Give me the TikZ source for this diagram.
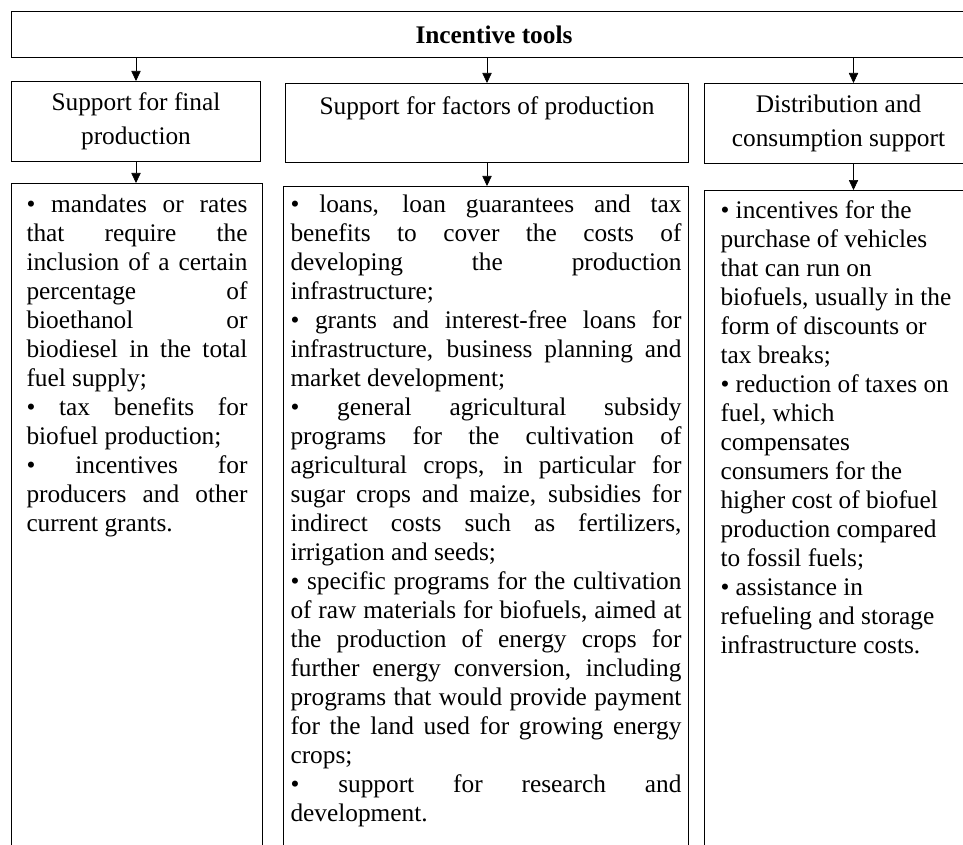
\documentclass[tikz,border=0pt]{standalone}
\usepackage{fontspec}
\setmainfont{Liberation Serif}
\usepackage{tikz}
\usetikzlibrary{calc}
\usetikzlibrary{arrows.meta}
\tolerance=10000
\hbadness=10000

\begin{document}
\begin{tikzpicture}[x=0.75pt, y=-0.75pt,
>={Triangle[length=7.5pt,width=7pt]},
block/.style = {rectangle, draw, line width=0.75pt, anchor=north west, inner sep=0pt},
head/.style = {block, align=center, font=\fontsize{19pt}{25.5pt}\selectfont},
list/.style = {block, font=\fontsize{19pt}{21.75pt}\selectfont}
]
\useasboundingbox (0,0) rectangle (963,845);
\clip (0,0) rectangle (963,845);

\node (tools)[head, minimum width=723.75pt, minimum height=34.5pt] at (11,11) {\textbf{Incentive tools}};

\node (final)[head, minimum width=186.75pt, minimum height=60pt] at (11,81) {Support for final\\production};
\node (factors)[head, minimum width=302.25pt, minimum height=59.25pt] at (285,83) {Support for factors of production\\~};
\node (distrib)[head, minimum width=201pt, minimum height=60pt] at (704,83) {Distribution and\\consumption support};

%,lists below
\node (finallist)[list, inner xsep=11.25pt, inner ysep=8.5pt] at (11,183) {\parbox[c][500pt][t]{165.75pt}{%
\textbullet{} mandates or rates\linebreak that require the\linebreak inclusion of a certain\linebreak percentage of\linebreak bioethanol or\linebreak biodiesel in the total\linebreak fuel supply;\par
\textbullet{} tax benefits for\linebreak biofuel production;\par
\textbullet{} incentives for\linebreak producers and other\linebreak current grants.}};
\node (factorslist)[list, inner xsep=5.25pt, inner ysep=6.5pt] at (283,186) {\parbox[c][500pt][t]{293.25pt}{%
\textbullet{} loans, loan guarantees and tax\linebreak benefits to cover the costs of\linebreak developing the production\linebreak infrastructure;\par
\textbullet{} grants and interest-free loans for\linebreak infrastructure, business planning and\linebreak market development;\par
\textbullet{} general agricultural subsidy\linebreak programs for the cultivation of\linebreak agricultural crops, in particular for\linebreak sugar crops and maize, subsidies for\linebreak indirect costs such as fertilizers,\linebreak irrigation and seeds;\par
\textbullet{} specific programs for the cultivation\linebreak of raw materials for biofuels, aimed at\linebreak the production of energy crops for\linebreak further energy conversion, including\linebreak programs that would provide payment\linebreak for the land used for growing energy\linebreak crops;\par
\textbullet{} support for research and\linebreak development.}};
\node (distriblist)[list, inner xsep=12pt, inner ysep=7.3pt] at (704,190) {\parbox[c][500pt][t]{177pt}{\raggedright
\textbullet{} incentives for the\\ purchase of vehicles\\ that can run on\\ biofuels, usually in the\\ form of discounts or\\ tax breaks;\\
\textbullet{} reduction of taxes on\\ fuel, which\\ compensates\\ consumers for the\\ higher cost of biofuel\\ production compared\\ to fossil fuels;\\
\textbullet{} assistance in\\ refueling and storage\\ infrastructure costs.}};

\draw[->] (tools.south -| final.north) -- (final.north);
\draw[->] (tools.south -| factors.north) -- (factors.north);
\draw[->] ($(tools.south -| distrib.north)+(15,0)$) -- ($(distrib.north)+(15,0)$);

\draw[->] (final.south) -- (final.south |- finallist.north);
\draw[->] (factors.south) -- (factors.south |- factorslist.north);
\draw[->] ($(distrib.south)+(15,0)$) -- ($(distrib.south |- distriblist.north)+(15,0)$);

\end{tikzpicture}
\end{document}
